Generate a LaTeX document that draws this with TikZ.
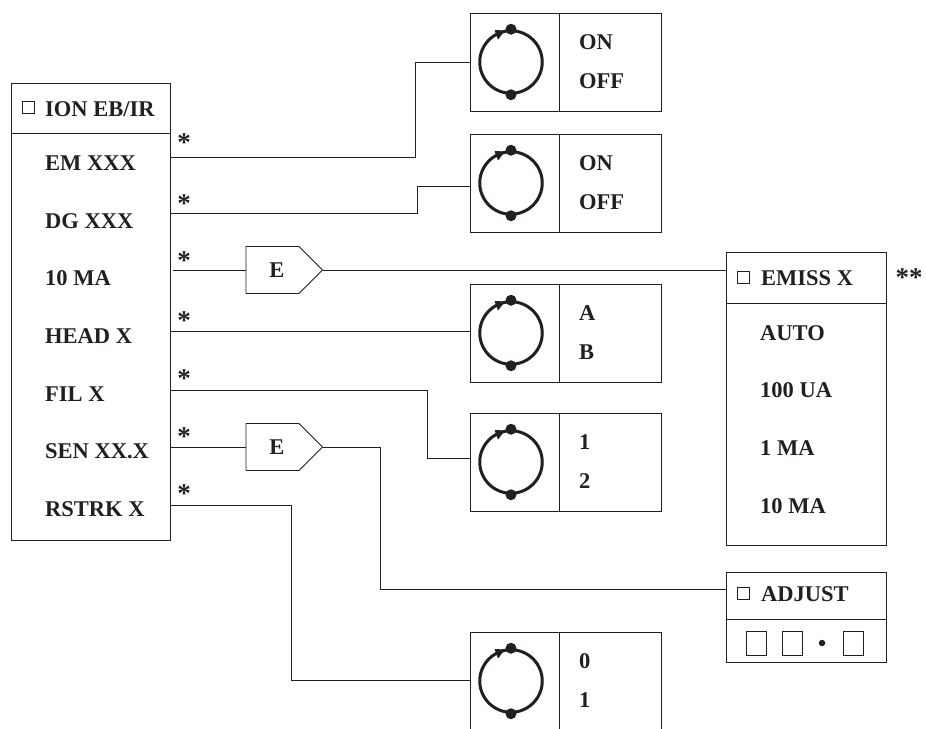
\documentclass[tikz,border=0pt]{standalone}
\usepackage{fontspec}
\usepackage{xcolor}
\usepackage{tikz}
\usetikzlibrary{shapes.symbols}
\setmainfont{Liberation Serif}
\definecolor{ink}{HTML}{231F20}
\tikzset{
    menu-box/.style = {draw=ink, line width=1pt, rectangle, inner sep=0pt, anchor=north west},
    menu-text/.style = {text=ink, font=\fontsize{22.5}{24}\selectfont\bfseries, inner sep=0pt, anchor=base west},
    star-mark/.style = {text=ink, font=\fontsize{27}{28}\selectfont\bfseries, inner sep=0pt},
    check-box/.style = {draw=ink, line width=0.9pt, rectangle, inner sep=0pt, minimum size=12pt},
    digit-box/.style = {draw=ink, line width=1pt, rectangle, inner sep=0pt, minimum width=20pt, minimum height=24pt, anchor=north west},
    encode-tag/.style = {draw=ink, line width=0.9pt, shape=signal, signal pointer angle=90, inner sep=0pt, minimum width=76.5pt, minimum height=47pt, anchor=west, text=ink, font=\fontsize{22.5}{24}\selectfont\bfseries},
    wire/.style = {draw=ink, line width=1pt},
    ring-dot/.style = {fill=ink, circle, inner sep=0pt, minimum size=11pt},
}

\begin{document}
\begin{tikzpicture}[x=1pt, y=-1pt]
\useasboundingbox (0,0) rectangle (926,728);

\node[menu-box, minimum width=159pt, minimum height=457pt] (ion) at (11,83) {};
\draw[wire] (11,133) -- (170,133);
\node[check-box] (ion-check) at (28,107.5) {};
\node[menu-text] (ion-title) at (45,116.5) {ION EB/IR};
\foreach \nm/\ypos/\txt in {em/170/EM XXX, dg/228/DG XXX, ma/285/10 MA, head/343/HEAD X, fil/401/FIL X, sen/458.7/SEN XX.X, rstrk/516/RSTRK X}
    \node[menu-text] (entry-\nm) at (45,\ypos) {\txt};
\foreach \nm/\ypos in {em/143, dg/204, ma/261, head/321, fil/379, sen/437, rstrk/494}
    \node[star-mark] (star-\nm) at (184,\ypos) {*};

\foreach \nm/\ypos/\first/\second in {on-a/13/ON/OFF, on-b/134/ON/OFF, head/284/A/B, fil/413/1/2, rstrk/632/0/1} {
    \node[menu-box, minimum width=191pt, minimum height=98pt] (toggle-\nm) at (470,\ypos) {};
    \draw[wire] (559.5,\ypos) -- ++(0,98);
    \node[menu-text] (first-\nm) at (579,\ypos+36) {\first};
    \node[menu-text] (second-\nm) at (579,\ypos+75) {\second};
    \node[draw=ink, line width=3pt, circle, inner sep=0pt, minimum size=62.5pt] (ring-\nm) at (511,\ypos+49) {};
    \node[ring-dot] (top-\nm) at (ring-\nm.north) {};
    \node[ring-dot] (bottom-\nm) at (ring-\nm.south) {};
    \fill[ink] (505,\ypos+17.5) -- (494.5,\ypos+17) -- (498,\ypos+26.5) -- cycle;
}

\node[menu-box, minimum width=160pt, minimum height=293pt] (emiss) at (726,252) {};
\draw[wire] (726,303) -- (886,303);
\node[check-box] (emiss-check) at (743.5,277) {};
\node[menu-text] (emiss-title) at (761,285.7) {EMISS X};
\foreach \nm/\ypos/\txt in {auto/340/AUTO, ua/397/100 UA, one/455/1 MA, ten/513/10 MA}
    \node[menu-text] (emiss-\nm) at (760,\ypos) {\txt};
\node[star-mark] (star-emiss) at (909,278) {**};

\node[menu-box, minimum width=160pt, minimum height=90pt] (adjust) at (726,572) {};
\draw[wire] (726,619) -- (886,619);
\node[check-box] (adjust-check) at (743.5,593) {};
\node[menu-text] (adjust-title) at (761,601) {ADJUST};
\node[digit-box] (digit-a) at (746,630.5) {};
\node[digit-box] (digit-b) at (782,630.5) {};
\node[fill=ink, circle, inner sep=0pt, minimum size=6.5pt] (digit-dot) at (822,643) {};
\node[digit-box] (digit-c) at (843,630.5) {};

\node[encode-tag] (tag-ma) at (245.5,270) {\hspace{9pt}E};
\node[encode-tag] (tag-sen) at (245.5,447) {\hspace{9pt}E};

\draw[wire] (170,157) -- (415.5,157) |- (toggle-on-a.west);
\draw[wire] (170,213.5) -- (417.5,213.5) |- (470,186);
\draw[wire] (173,270) -- (tag-ma.west);
\draw[wire] (tag-ma.east) -- (726,270);
\draw[wire] (170,331) -- (470,331);
\draw[wire] (170,390) -- (427.5,390) |- (470,458);
\draw[wire] (170,447) -- (tag-sen.west);
\draw[wire] (tag-sen.east) -- (380.5,447) |- (726,589.5);
\draw[wire] (170,505.5) -- (291,505.5) |- (470,680);
\end{tikzpicture}
\end{document}
